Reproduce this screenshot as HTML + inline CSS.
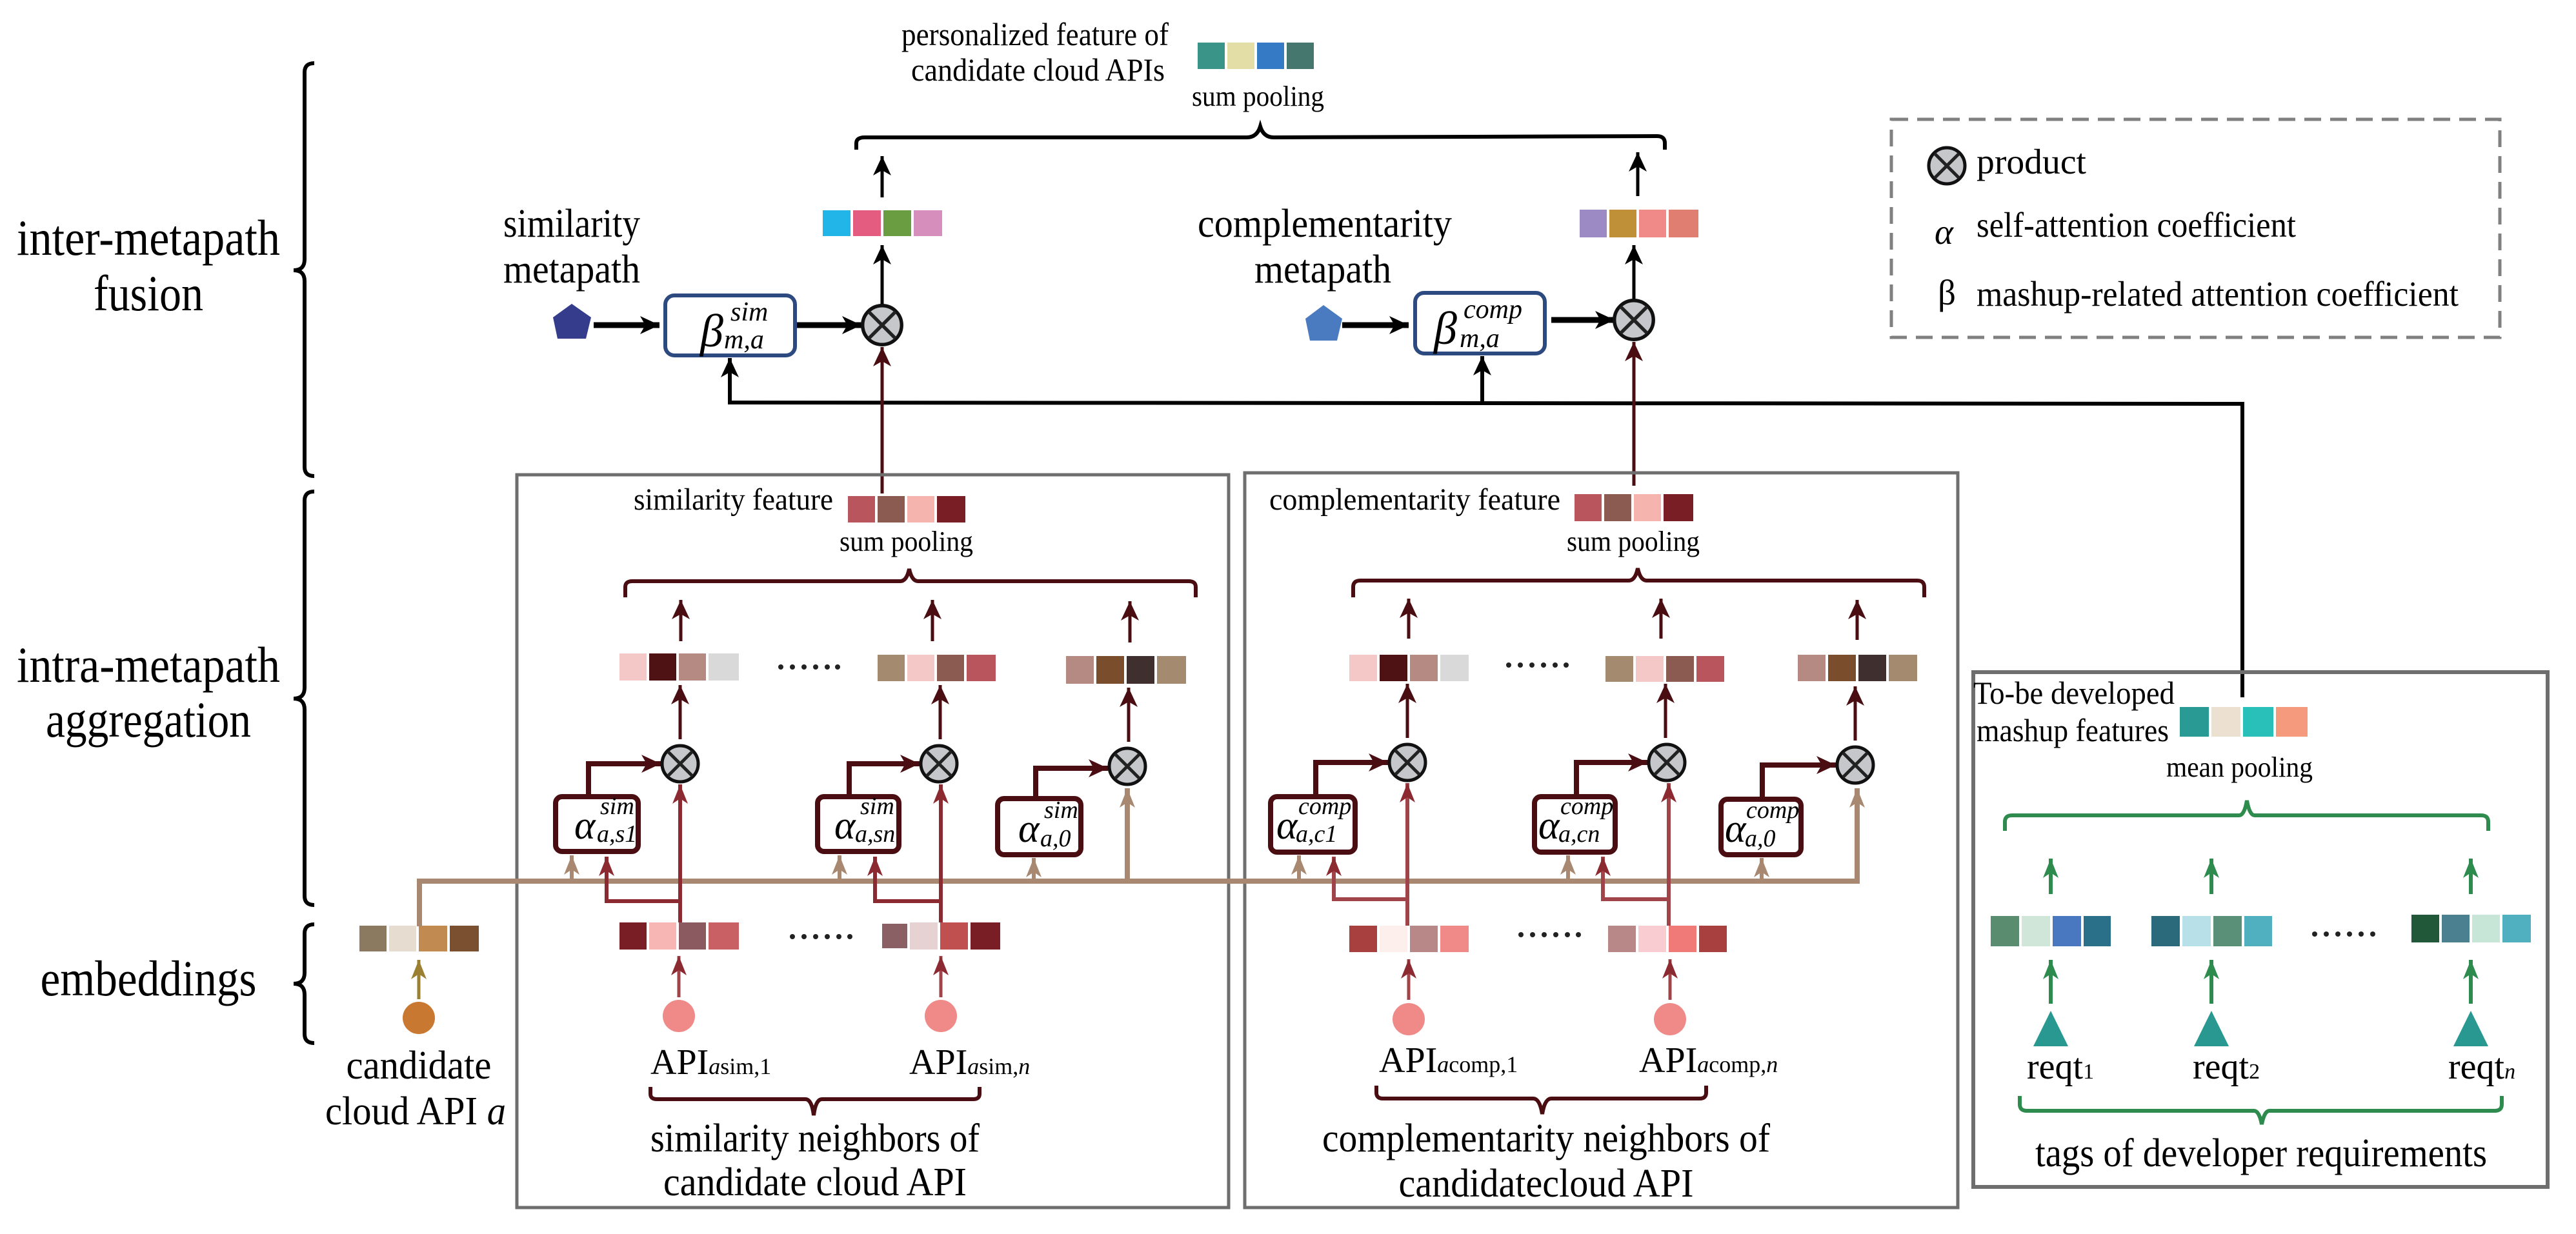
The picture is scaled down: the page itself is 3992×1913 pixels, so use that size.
<!DOCTYPE html>
<html><head><meta charset="utf-8"><style>html,body{margin:0;padding:0;background:#fff}svg{display:block;font-family:"Liberation Serif","DejaVu Serif",serif}svg text{font-family:"Liberation Serif","DejaVu Serif",serif}</style></head>
<body>
<svg xmlns="http://www.w3.org/2000/svg" width="3992" height="1913" viewBox="0 0 3992 1913">
<defs>
<marker id="mk" markerUnits="userSpaceOnUse" markerWidth="34" markerHeight="28" refX="30" refY="14" orient="auto"><path d="M0,0 L30,14 L0,28 L8,14 z" fill="#000"/></marker>
<marker id="md" markerUnits="userSpaceOnUse" markerWidth="34" markerHeight="28" refX="30" refY="14" orient="auto"><path d="M0,0 L30,14 L0,28 L8,14 z" fill="#4a0e12"/></marker>
<marker id="mr" markerUnits="userSpaceOnUse" markerWidth="34" markerHeight="24" refX="30" refY="12" orient="auto"><path d="M0,0 L30,12 L0,24 L8,12 z" fill="#8b2a30"/></marker>
<marker id="mt" markerUnits="userSpaceOnUse" markerWidth="34" markerHeight="24" refX="30" refY="12" orient="auto"><path d="M0,0 L30,12 L0,24 L8,12 z" fill="#a88870"/></marker>
<marker id="mg" markerUnits="userSpaceOnUse" markerWidth="34" markerHeight="24" refX="30" refY="12" orient="auto"><path d="M0,0 L30,12 L0,24 L8,12 z" fill="#2e8b4e"/></marker>
<marker id="mo" markerUnits="userSpaceOnUse" markerWidth="34" markerHeight="24" refX="30" refY="12" orient="auto"><path d="M0,0 L30,12 L0,24 L8,12 z" fill="#9a8030"/></marker>
<g id="ot"><circle r="28" fill="#c6c7ca" stroke="#111" stroke-width="5"/><path d="M-19,-19 L19,19 M19,-19 L-19,19" stroke="#222" stroke-width="5"/></g>
</defs>

<g fill="none" stroke="#000" stroke-width="6">
<path d="M487,98 Q472,98 472,112 L472,402 Q472,419 455,419 Q472,419 472,436 L472,724 Q472,738 487,738"/>
<path d="M487,762 Q472,762 472,776 L472,1066 Q472,1083 455,1083 Q472,1083 472,1100 L472,1389 Q472,1403 487,1403"/>
<path d="M487,1433 Q472,1433 472,1447 L472,1508 Q472,1525 455,1525 Q472,1525 472,1542 L472,1603 Q472,1617 487,1617"/>
</g>
<g font-size="78" text-anchor="middle">
<text x="230" y="395" textLength="408" lengthAdjust="spacingAndGlyphs">inter-metapath</text>
<text x="230" y="481" textLength="170" lengthAdjust="spacingAndGlyphs">fusion</text>
<text x="230" y="1057" textLength="408" lengthAdjust="spacingAndGlyphs">intra-metapath</text>
<text x="230" y="1142" textLength="318" lengthAdjust="spacingAndGlyphs">aggregation</text>
<text x="230" y="1543" textLength="335" lengthAdjust="spacingAndGlyphs">embeddings</text>
</g>

<text x="1397" y="70" font-size="50" textLength="414" lengthAdjust="spacingAndGlyphs">personalized feature of</text>
<text x="1412" y="125" font-size="50" textLength="393" lengthAdjust="spacingAndGlyphs">candidate cloud APIs</text>
<rect x="1856" y="66" width="42" height="41" fill="#3a9488"/><rect x="1902" y="66" width="42" height="41" fill="#e3dda6"/><rect x="1948" y="66" width="42" height="41" fill="#347ac4"/><rect x="1994" y="66" width="42" height="41" fill="#45776f"/>
<text x="1847" y="164" font-size="44" textLength="205" lengthAdjust="spacingAndGlyphs">sum pooling</text>
<path d="M1327,232 L1327,222 Q1327,213 1340,213 L1932,213 Q1948,213 1953,196 Q1958,213 1974,213 L2568,211 Q2580,211 2580,222 L2580,232" fill="none" stroke="#000" stroke-width="6"/>
<line x1="1367" y1="306" x2="1367" y2="242" stroke="#000" stroke-width="5" marker-end="url(#mk)"/>
<line x1="2538" y1="304" x2="2538" y2="236" stroke="#000" stroke-width="5" marker-end="url(#mk)"/>
<rect x="1275" y="326" width="43" height="40" fill="#22b5e8"/><rect x="1322" y="326" width="43" height="40" fill="#e45c80"/><rect x="1369" y="326" width="43" height="40" fill="#6a9c42"/><rect x="1416" y="326" width="44" height="40" fill="#d68fbd"/>
<rect x="2448" y="325" width="42" height="43" fill="#9b8ac4"/><rect x="2494" y="325" width="42" height="43" fill="#c09038"/><rect x="2540" y="325" width="42" height="43" fill="#f08a88"/><rect x="2586" y="325" width="46" height="43" fill="#e07e72"/>
<line x1="1367" y1="472" x2="1367" y2="380" stroke="#000" stroke-width="5" marker-end="url(#mk)"/>
<line x1="2532" y1="466" x2="2532" y2="380" stroke="#000" stroke-width="5" marker-end="url(#mk)"/>

<g font-size="62" text-anchor="middle">
<text x="886" y="367" textLength="212" lengthAdjust="spacingAndGlyphs">similarity</text>
<text x="886" y="438" textLength="212" lengthAdjust="spacingAndGlyphs">metapath</text>
<text x="2053" y="367" textLength="394" lengthAdjust="spacingAndGlyphs">complementarity</text>
<text x="2050" y="438" textLength="212" lengthAdjust="spacingAndGlyphs">metapath</text>
</g>
<polygon points="886,471 916,492 908,525 864,525 857,492" fill="#353c8c"/>
<polygon points="2051,473 2080,494 2072,528 2030,528 2023,494" fill="#4a7abf"/>
<line x1="920" y1="504" x2="1022" y2="504" stroke="#000" stroke-width="9" marker-end="url(#mk)"/>
<line x1="2080" y1="504" x2="2183" y2="504" stroke="#000" stroke-width="9" marker-end="url(#mk)"/>
<line x1="1235" y1="504" x2="1335" y2="504" stroke="#000" stroke-width="9" marker-end="url(#mk)"/>
<line x1="2404" y1="496" x2="2502" y2="496" stroke="#000" stroke-width="9" marker-end="url(#mk)"/>
<rect x="1031" y="458" width="201" height="93" rx="14" fill="#fff" stroke="#2d4a80" stroke-width="6"/>
<rect x="2193" y="454" width="201" height="94" rx="14" fill="#fff" stroke="#2d4a80" stroke-width="6"/>
<g font-style="italic">
<text x="1085" y="537" font-size="72">β</text><text x="1132" y="497" font-size="42">sim</text><text x="1122" y="540" font-size="42">m,a</text>
<text x="2222" y="533" font-size="72">β</text><text x="2268" y="493" font-size="42">comp</text><text x="2262" y="538" font-size="42">m,a</text>
</g>
<use href="#ot" transform="translate(1367,504) scale(1.08)"/>
<use href="#ot" transform="translate(2532,496) scale(1.08)"/>

<path d="M3475,1081 L3475,626 L1131,624 L1131,555" fill="none" stroke="#000" stroke-width="6" marker-end="url(#mk)"/>
<line x1="2297" y1="626" x2="2297" y2="552" stroke="#000" stroke-width="6" marker-end="url(#mk)"/>
<line x1="1367" y1="765" x2="1367" y2="538" stroke="#4a0e12" stroke-width="5" marker-end="url(#md)"/>
<line x1="2532" y1="753" x2="2532" y2="530" stroke="#4a0e12" stroke-width="5" marker-end="url(#md)"/>

<rect x="2931" y="185" width="943" height="338" fill="none" stroke="#808080" stroke-width="5" stroke-dasharray="26,14"/>
<use href="#ot" transform="translate(3017,257)"/>
<text x="3063" y="269" font-size="55" textLength="170" lengthAdjust="spacingAndGlyphs">product</text>
<text x="2998" y="378" font-size="55" font-style="italic">α</text>
<text x="3063" y="367" font-size="55" textLength="495" lengthAdjust="spacingAndGlyphs">self-attention coefficient</text>
<text x="3003" y="472" font-size="55">β</text>
<text x="3063" y="474" font-size="55" textLength="747" lengthAdjust="spacingAndGlyphs">mashup-related attention coefficient</text>

<rect x="801" y="736" width="1103" height="1136" fill="none" stroke="#6e6e6e" stroke-width="5"/>
<rect x="1929" y="733" width="1105" height="1139" fill="none" stroke="#6e6e6e" stroke-width="5"/>
<rect x="3058" y="1042" width="890" height="798" fill="none" stroke="#6e6e6e" stroke-width="6"/>

<text x="982" y="790" font-size="48" textLength="309" lengthAdjust="spacingAndGlyphs">similarity feature</text>
<rect x="1314" y="769" width="42" height="41" fill="#b9565d"/><rect x="1360" y="769" width="42" height="41" fill="#8b5a50"/><rect x="1406" y="769" width="42" height="41" fill="#f5b4ae"/><rect x="1452" y="769" width="44" height="41" fill="#7a1e25"/>
<text x="1967" y="790" font-size="48" textLength="451" lengthAdjust="spacingAndGlyphs">complementarity feature</text>
<rect x="2440" y="766" width="42" height="42" fill="#b9565d"/><rect x="2486" y="766" width="42" height="42" fill="#8b5a50"/><rect x="2532" y="766" width="42" height="42" fill="#f5b4ae"/><rect x="2578" y="766" width="46" height="42" fill="#7a1e25"/>
<text x="1301" y="854" font-size="44" textLength="207" lengthAdjust="spacingAndGlyphs">sum pooling</text>
<text x="2428" y="854" font-size="44" textLength="206" lengthAdjust="spacingAndGlyphs">sum pooling</text>
<g fill="none" stroke="#4a0e12" stroke-width="6">
<path d="M969,926 L969,910 Q969,901 980,901 L1395,901 Q1405,901 1409,882 Q1413,901 1423,901 L1842,901 Q1853,901 1853,910 L1853,926"/>
<path d="M2097,926 L2097,910 Q2097,900 2108,900 L2524,900 Q2534,900 2538,881 Q2542,900 2552,900 L2971,900 Q2982,900 2982,910 L2982,926"/>
</g>

<g stroke="#4a0e12" stroke-width="5" marker-end="url(#md)">
<line x1="1055" y1="994" x2="1055" y2="930"/><line x1="1445" y1="994" x2="1445" y2="930"/><line x1="1751" y1="996" x2="1751" y2="932"/>
<line x1="2183" y1="990" x2="2183" y2="928"/><line x1="2574" y1="990" x2="2574" y2="928"/><line x1="2878" y1="992" x2="2878" y2="930"/>
<line x1="1054" y1="1146" x2="1054" y2="1062"/><line x1="1457" y1="1146" x2="1457" y2="1062"/><line x1="1749" y1="1150" x2="1749" y2="1066"/>
<line x1="2181" y1="1144" x2="2181" y2="1060"/><line x1="2581" y1="1144" x2="2581" y2="1060"/><line x1="2875" y1="1148" x2="2875" y2="1064"/>
</g>

<rect x="960" y="1013" width="42" height="42" fill="#f5c8c8"/><rect x="1006" y="1013" width="42" height="42" fill="#4e1214"/><rect x="1052" y="1013" width="42" height="42" fill="#b48a82"/><rect x="1098" y="1013" width="47" height="42" fill="#d9d9d9"/>
<rect x="1360" y="1015" width="42" height="41" fill="#a48a6e"/><rect x="1406" y="1015" width="42" height="41" fill="#f5c8c8"/><rect x="1452" y="1015" width="42" height="41" fill="#8b5a50"/><rect x="1498" y="1015" width="45" height="41" fill="#b9565d"/>
<rect x="1652" y="1017" width="43" height="43" fill="#b48a82"/><rect x="1699" y="1017" width="43" height="43" fill="#7a4e2c"/><rect x="1746" y="1017" width="43" height="43" fill="#3f2f2e"/><rect x="1793" y="1017" width="45" height="43" fill="#a48a6e"/>
<rect x="2091" y="1015" width="43" height="41" fill="#f5c8c8"/><rect x="2138" y="1015" width="43" height="41" fill="#4e1214"/><rect x="2185" y="1015" width="43" height="41" fill="#b48a82"/><rect x="2232" y="1015" width="44" height="41" fill="#d9d9d9"/>
<rect x="2488" y="1017" width="43" height="40" fill="#a48a6e"/><rect x="2535" y="1017" width="43" height="40" fill="#f5c8c8"/><rect x="2582" y="1017" width="43" height="40" fill="#8b5a50"/><rect x="2629" y="1017" width="43" height="40" fill="#b9565d"/>
<rect x="2786" y="1015" width="43" height="41" fill="#b48a82"/><rect x="2833" y="1015" width="43" height="41" fill="#7a4e2c"/><rect x="2880" y="1015" width="43" height="41" fill="#3f2f2e"/><rect x="2927" y="1015" width="44" height="41" fill="#a48a6e"/>
<g fill="#222">
<circle cx="1210" cy="1034" r="4"/><circle cx="1228" cy="1034" r="4"/><circle cx="1246" cy="1034" r="4"/><circle cx="1264" cy="1034" r="4"/><circle cx="1282" cy="1034" r="4"/><circle cx="1298" cy="1034" r="4"/>
<circle cx="2338" cy="1031" r="4"/><circle cx="2356" cy="1031" r="4"/><circle cx="2374" cy="1031" r="4"/><circle cx="2392" cy="1031" r="4"/><circle cx="2410" cy="1031" r="4"/><circle cx="2427" cy="1031" r="4"/>
</g>

<g fill="none" stroke="#4a0e12" stroke-width="8" marker-end="url(#md)">
<path d="M912,1236 L912,1184 L1024,1184"/><path d="M1316,1236 L1316,1184 L1425,1184"/><path d="M1605,1240 L1605,1191 L1717,1191"/>
<path d="M2039,1236 L2039,1182 L2151,1182"/><path d="M2443,1236 L2443,1182 L2553,1182"/><path d="M2731,1240 L2731,1186 L2845,1186"/>
</g>
<use href="#ot" transform="translate(1054,1184)"/><use href="#ot" transform="translate(1455,1184)"/><use href="#ot" transform="translate(1747,1188)"/>
<use href="#ot" transform="translate(2181,1182)"/><use href="#ot" transform="translate(2583,1182)"/><use href="#ot" transform="translate(2875,1186)"/>

<g fill="#fff" stroke="#4a0e12" stroke-width="8">
<rect x="861" y="1235" width="128" height="85" rx="10"/><rect x="1267" y="1235" width="126" height="85" rx="10"/><rect x="1546" y="1238" width="129" height="87" rx="10"/>
<rect x="1969" y="1235" width="131" height="86" rx="10"/><rect x="2378" y="1235" width="125" height="86" rx="10"/><rect x="2667" y="1239" width="124" height="86" rx="10"/>
</g>
<g font-style="italic">
<text x="890" y="1300" font-size="62">α</text><text x="930" y="1262" font-size="38">sim</text><text x="925" y="1305" font-size="38">a,s1</text>
<text x="1293" y="1300" font-size="62">α</text><text x="1333" y="1262" font-size="38">sim</text><text x="1325" y="1305" font-size="38">a,sn</text>
<text x="1578" y="1305" font-size="62">α</text><text x="1618" y="1268" font-size="38">sim</text><text x="1612" y="1312" font-size="38">a,0</text>
<text x="1978" y="1300" font-size="62">α</text><text x="2012" y="1262" font-size="38">comp</text><text x="2008" y="1305" font-size="38">a,c1</text>
<text x="2384" y="1300" font-size="62">α</text><text x="2418" y="1262" font-size="38">comp</text><text x="2415" y="1305" font-size="38">a,cn</text>
<text x="2673" y="1305" font-size="62">α</text><text x="2706" y="1268" font-size="38">comp</text><text x="2704" y="1312" font-size="38">a,0</text>
</g>

<g stroke="#a88870" stroke-width="8" fill="none">
<path d="M650,1436 L650,1366 L2878,1366 L2878,1222" marker-end="url(#mt)"/>
<line x1="1747" y1="1366" x2="1747" y2="1222" marker-end="url(#mt)"/>
</g>
<g stroke="#a88870" stroke-width="6" marker-end="url(#mt)">
<line x1="886" y1="1366" x2="886" y2="1326"/><line x1="1301" y1="1366" x2="1301" y2="1326"/><line x1="1602" y1="1366" x2="1602" y2="1330"/>
<line x1="2013" y1="1366" x2="2013" y2="1326"/><line x1="2430" y1="1366" x2="2430" y2="1326"/><line x1="2730" y1="1366" x2="2730" y2="1330"/>
</g>
<g stroke="#8b2a30" stroke-width="6" fill="none" marker-end="url(#mr)">
<line x1="1054" y1="1430" x2="1054" y2="1216"/><path d="M1054,1397 L940,1397 L940,1328"/>
<line x1="1458" y1="1430" x2="1458" y2="1216"/><path d="M1458,1397 L1356,1397 L1356,1328"/>
</g>
<g stroke="#a0444a" stroke-width="6" fill="none" marker-end="url(#mr)">
<line x1="2181" y1="1435" x2="2181" y2="1214"/><path d="M2181,1394 L2067,1394 L2067,1328"/>
<line x1="2586" y1="1435" x2="2586" y2="1214"/><path d="M2586,1394 L2484,1394 L2484,1328"/>
</g>

<rect x="557" y="1435" width="42" height="40" fill="#8c7a60"/><rect x="603" y="1435" width="42" height="40" fill="#e6dcd0"/><rect x="649" y="1435" width="44" height="40" fill="#c08a50"/><rect x="697" y="1435" width="45" height="40" fill="#7a5030"/>
<line x1="650" y1="1436" x2="650" y2="1420" stroke="#a88870" stroke-width="8"/>
<rect x="960" y="1430" width="42" height="42" fill="#7a1e25"/><rect x="1006" y="1430" width="42" height="42" fill="#f7b5b4"/><rect x="1052" y="1430" width="42" height="42" fill="#8b5a60"/><rect x="1098" y="1430" width="47" height="42" fill="#c86064"/>
<rect x="1367" y="1432" width="39" height="38" fill="#8b6064"/><rect x="1410" y="1430" width="43" height="42" fill="#e6d2d2"/><rect x="1457" y="1430" width="43" height="42" fill="#c05050"/><rect x="1504" y="1430" width="46" height="42" fill="#7a1e25"/>
<rect x="2091" y="1435" width="43" height="41" fill="#a84040"/><rect x="2138" y="1435" width="43" height="41" fill="#fdf0ec"/><rect x="2185" y="1435" width="43" height="41" fill="#b88888"/><rect x="2232" y="1435" width="44" height="41" fill="#f08a88"/>
<rect x="2492" y="1435" width="43" height="41" fill="#b88888"/><rect x="2539" y="1435" width="43" height="41" fill="#f8ccd0"/><rect x="2586" y="1435" width="43" height="41" fill="#f07a78"/><rect x="2633" y="1435" width="43" height="41" fill="#a84040"/>
<g fill="#222">
<circle cx="1228" cy="1452" r="4"/><circle cx="1246" cy="1452" r="4"/><circle cx="1264" cy="1452" r="4"/><circle cx="1282" cy="1452" r="4"/><circle cx="1300" cy="1452" r="4"/><circle cx="1317" cy="1452" r="4"/>
<circle cx="2357" cy="1449" r="4"/><circle cx="2375" cy="1449" r="4"/><circle cx="2393" cy="1449" r="4"/><circle cx="2411" cy="1449" r="4"/><circle cx="2429" cy="1449" r="4"/><circle cx="2446" cy="1449" r="4"/>
</g>
<line x1="649" y1="1549" x2="649" y2="1488" stroke="#9a8030" stroke-width="5" marker-end="url(#mo)"/>
<g stroke="#a0444a" stroke-width="5" marker-end="url(#mr)">
<line x1="1052" y1="1546" x2="1052" y2="1482"/><line x1="1458" y1="1546" x2="1458" y2="1482"/>
<line x1="2183" y1="1550" x2="2183" y2="1487"/><line x1="2588" y1="1550" x2="2588" y2="1487"/>
</g>
<ellipse cx="649" cy="1578" rx="25" ry="25" fill="#c87830"/>
<circle cx="1052" cy="1575" r="25" fill="#f08a88"/><circle cx="1458" cy="1575" r="25" fill="#f08a88"/>
<circle cx="2183" cy="1580" r="25" fill="#f08a88"/><circle cx="2588" cy="1580" r="25" fill="#f08a88"/>

<g font-size="62" text-anchor="middle">
<text x="649" y="1672" textLength="225" lengthAdjust="spacingAndGlyphs">candidate</text>
<text x="644" y="1743" textLength="280" lengthAdjust="spacingAndGlyphs">cloud API <tspan font-style="italic">a</tspan></text>
<text x="1263" y="1785" textLength="510" lengthAdjust="spacingAndGlyphs">similarity neighbors of</text>
<text x="1263" y="1853" textLength="470" lengthAdjust="spacingAndGlyphs">candidate cloud API</text>
<text x="2396" y="1785" textLength="694" lengthAdjust="spacingAndGlyphs">complementarity neighbors of</text>
<text x="2396" y="1855" textLength="457" lengthAdjust="spacingAndGlyphs">candidatecloud API</text>
<text x="3504" y="1808" textLength="700" lengthAdjust="spacingAndGlyphs">tags of developer requirements</text>
</g>
<g font-size="56">
<text x="1008" y="1665">API<tspan font-size="36"><tspan font-style="italic">a</tspan>sim,1</tspan></text>
<text x="1409" y="1665">API<tspan font-size="36"><tspan font-style="italic">a</tspan>sim,<tspan font-style="italic">n</tspan></tspan></text>
<text x="2137" y="1662">API<tspan font-size="36"><tspan font-style="italic">a</tspan>comp,1</tspan></text>
<text x="2540" y="1662">API<tspan font-size="36"><tspan font-style="italic">a</tspan>comp,<tspan font-style="italic">n</tspan></tspan></text>
<text x="3141" y="1672">reqt<tspan font-size="34">1</tspan></text>
<text x="3398" y="1672">reqt<tspan font-size="34">2</tspan></text>
<text x="3794" y="1672">reqt<tspan font-size="34" font-style="italic">n</tspan></text>
</g>
<g fill="none" stroke="#4a0e12" stroke-width="6">
<path d="M1008,1685 L1008,1696 Q1008,1704 1018,1704 L1248,1704 Q1258,1704 1261,1729 Q1264,1704 1274,1704 L1508,1704 Q1518,1704 1518,1696 L1518,1685"/>
<path d="M2133,1683 L2133,1694 Q2133,1703 2143,1703 L2376,1703 Q2386,1703 2390,1727 Q2394,1703 2404,1703 L2634,1703 Q2644,1703 2644,1694 L2644,1683"/>
</g>

<text x="3058" y="1091" font-size="50" textLength="312" lengthAdjust="spacingAndGlyphs">To-be developed</text>
<text x="3063" y="1149" font-size="50" textLength="298" lengthAdjust="spacingAndGlyphs">mashup features</text>
<rect x="3378" y="1096" width="45" height="46" fill="#2a9a94"/><rect x="3427" y="1096" width="45" height="46" fill="#ece0d0"/><rect x="3476" y="1096" width="47" height="46" fill="#28c0b8"/><rect x="3527" y="1096" width="49" height="46" fill="#f59a7c"/>
<text x="3357" y="1204" font-size="44" textLength="227" lengthAdjust="spacingAndGlyphs">mean pooling</text>
<g fill="none" stroke="#2e8b4e" stroke-width="6">
<path d="M3107,1288 L3107,1274 Q3107,1264 3118,1264 L3470,1264 Q3478,1264 3482,1241 Q3486,1264 3494,1264 L3845,1264 Q3856,1264 3856,1274 L3856,1288"/>
<path d="M3130,1699 L3130,1712 Q3130,1722 3141,1722 L3493,1722 Q3501,1722 3505,1743 Q3509,1722 3517,1722 L3866,1722 Q3877,1722 3877,1712 L3877,1699"/>
</g>
<g stroke="#2e8b4e" stroke-width="6" marker-end="url(#mg)">
<line x1="3178" y1="1386" x2="3178" y2="1331"/><line x1="3427" y1="1386" x2="3427" y2="1331"/><line x1="3829" y1="1386" x2="3829" y2="1331"/>
<line x1="3178" y1="1556" x2="3178" y2="1488"/><line x1="3427" y1="1556" x2="3427" y2="1488"/><line x1="3829" y1="1556" x2="3829" y2="1488"/>
</g>
<rect x="3085" y="1420" width="44" height="47" fill="#5a8c70"/><rect x="3133" y="1420" width="44" height="47" fill="#cfe6d8"/><rect x="3181" y="1420" width="44" height="47" fill="#4a78c0"/><rect x="3229" y="1420" width="42" height="47" fill="#2a7088"/>
<rect x="3334" y="1420" width="44" height="47" fill="#2a6a7a"/><rect x="3382" y="1420" width="44" height="47" fill="#b8e0e8"/><rect x="3430" y="1420" width="44" height="47" fill="#5a9078"/><rect x="3478" y="1420" width="43" height="47" fill="#50b0c0"/>
<rect x="3737" y="1418" width="43" height="43" fill="#22583a"/><rect x="3784" y="1418" width="43" height="43" fill="#4a8090"/><rect x="3831" y="1418" width="43" height="43" fill="#c8e6d8"/><rect x="3878" y="1418" width="44" height="43" fill="#50b0c0"/>
<g fill="#222">
<circle cx="3587" cy="1448" r="4"/><circle cx="3605" cy="1448" r="4"/><circle cx="3623" cy="1448" r="4"/><circle cx="3641" cy="1448" r="4"/><circle cx="3659" cy="1448" r="4"/><circle cx="3677" cy="1448" r="4"/>
</g>
<g fill="#289890">
<polygon points="3178,1567 3205,1622 3151,1622"/><polygon points="3427,1567 3454,1622 3400,1622"/><polygon points="3829,1567 3856,1622 3802,1622"/>
</g>
</svg>
</body></html>
